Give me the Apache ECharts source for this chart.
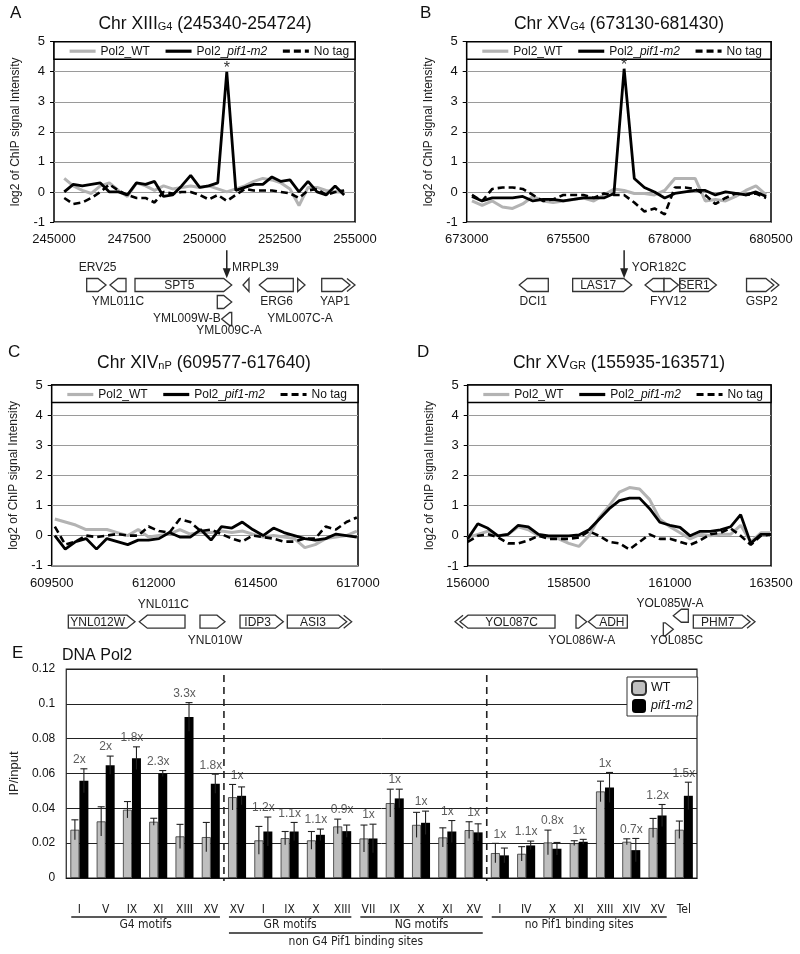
<!DOCTYPE html>
<html><head><meta charset="utf-8">
<script src="https://cdn.jsdelivr.net/npm/echarts@6.0.0/dist/echarts.min.js"></script>
<style>html,body{margin:0;padding:0;background:#fff}#c{width:800px;height:954px}</style>
</head><body><div id="c"></div>
<script>
// ---------------- DATA ----------------
// Panel A: Chr XIII G4 (245340-254724)
const aX = [245340,245640,245940,246240,246540,246840,247140,247440,247740,248040,248340,248640,248940,249240,249540,249840,250140,250440,250740,251040,251340,251640,251940,252240,252540,252840,253140,253440,253740,254040,254340,254640];
const aWT = [0.45,0.2,0.05,-0.05,0.2,0.3,0.05,-0.15,0.3,0.2,0.05,0.2,0.1,0.15,0.2,0.15,0.2,0.1,0.0,0.1,0.2,0.35,0.45,0.4,0.3,0.1,-0.45,0.15,0.15,0.05,0.0,0.0];
const aPif = [0.0,0.25,0.2,0.25,0.3,0.0,0.0,-0.1,0.3,0.25,0.35,-0.15,-0.1,0.2,0.55,0.15,0.2,0.3,4.0,0.05,0.15,0.25,0.25,0.5,0.35,0.4,0.0,0.35,0.0,-0.1,0.2,-0.1];
const aNoTag = [-0.2,-0.4,-0.35,-0.2,0.0,0.25,0.05,-0.1,-0.2,-0.2,-0.35,0.0,-0.05,0.0,0.0,-0.1,-0.25,-0.1,-0.3,-0.1,0.1,0.05,0.05,0.05,0.0,-0.05,-0.2,0.05,0.1,-0.1,0.0,0.05];
// Panel B: Chr XV G4 (673130-681430)
const bX = [673130,673380,673630,673880,674130,674380,674630,674880,675130,675380,675630,675880,676130,676380,676630,676880,677130,677380,677630,677880,678130,678380,678630,678880,679130,679380,679630,679880,680130,680380];
const bWT = [-0.3,-0.45,-0.3,-0.5,-0.55,-0.4,-0.15,-0.3,-0.35,-0.3,-0.25,-0.2,-0.3,-0.1,0.1,0.05,-0.05,-0.05,-0.1,0.05,0.45,0.45,0.45,-0.3,-0.25,-0.3,-0.15,0.05,0.2,-0.1];
const bPif = [-0.15,-0.3,-0.2,-0.2,-0.2,-0.15,-0.3,-0.25,-0.25,-0.3,-0.25,-0.2,-0.2,-0.2,-0.05,4.1,0.45,0.15,0.0,-0.2,-0.05,0.0,0.05,0.05,-0.1,0.0,-0.05,-0.1,0.0,-0.15];
const bNoTag = [-0.1,-0.3,0.1,0.15,0.15,0.1,-0.1,-0.3,-0.25,-0.1,-0.1,-0.1,-0.2,-0.05,-0.1,-0.1,-0.35,-0.65,-0.55,-0.75,0.15,0.15,0.1,-0.1,-0.4,-0.2,-0.05,-0.1,-0.05,-0.2];
// Panel C: Chr XIV nP (609577-617640)
const cX = [609577,609832,610087,610342,610597,610852,611107,611362,611617,611872,612127,612382,612637,612892,613147,613402,613657,613912,614167,614422,614677,614932,615187,615442,615697,615952,616207,616462,616717,616972];
const cWT = [0.55,0.45,0.35,0.2,0.2,0.2,0.1,0.0,0.2,-0.05,0.0,0.05,0.2,0.05,0.1,0.1,0.15,0.1,0.15,0.05,-0.05,0.0,-0.05,-0.1,-0.4,-0.3,-0.1,-0.05,0.0,0.15];
const cPif = [0.0,-0.45,-0.2,-0.1,-0.45,-0.1,-0.2,-0.3,-0.15,-0.15,-0.1,0.1,-0.05,-0.05,0.2,-0.15,0.3,0.25,0.45,0.2,0.0,0.25,0.1,0.0,-0.1,-0.15,-0.1,0.05,0.0,-0.05];
const cNoTag = [0.3,-0.3,-0.2,0.0,-0.05,0.0,0.05,0.0,0.0,0.3,0.15,0.1,0.55,0.45,0.15,0.2,0.05,-0.1,-0.2,0.0,-0.05,-0.1,-0.2,-0.2,-0.1,-0.1,0.3,0.2,0.45,0.6];
// Panel D: Chr XV GR (155935-163571)
const dX = [156000,156250,156500,156750,157000,157250,157500,157750,158000,158250,158500,158750,159000,159250,159500,159750,160000,160250,160500,160750,161000,161250,161500,161750,162000,162250,162500,162750,163000,163250,163500];
const dWT = [-0.05,0.05,0.15,0.0,0.05,0.3,0.2,0.0,-0.05,-0.1,-0.25,-0.35,0.0,0.6,1.0,1.45,1.6,1.55,1.2,0.55,0.3,0.1,-0.1,0.05,0.0,0.05,0.05,0.35,-0.2,0.1,0.1];
const dPif = [-0.1,0.4,0.25,0.0,0.05,0.35,0.3,0.05,0.0,0.0,0.0,0.03,0.2,0.55,0.9,1.17,1.25,1.25,0.9,0.45,0.35,0.28,0.0,0.15,0.15,0.2,0.3,0.7,-0.25,0.05,0.05];
const dNoTag = [-0.2,0.0,0.05,-0.05,-0.25,-0.25,-0.15,0.0,-0.1,-0.1,-0.1,-0.05,0.15,0.0,-0.2,-0.25,-0.45,-0.2,0.05,-0.1,-0.1,-0.2,-0.3,-0.15,0.05,0.1,0.25,0.0,-0.3,0.0,0.05];

// Gene annotations: [name, start, end, strand, row, doubleChevron, labelInside]
const genesA = [
  ['ERV25',246086,246728,1,0,0,0], ['YML011C',246860,247392,-1,0,0,0], ['SPT5',247691,250904,1,0,0,1],
  ['MRPL39',251279,251478,-1,0,0,0], ['ERG6',251821,252950,-1,0,0,0], ['YML007C-A',253096,253339,1,0,0,0],
  ['YAP1',253894,254834,1,0,1,0], ['YML009W-B',250425,250904,1,1,0,0], ['YML009C-A',250570,250904,-1,2,0,0]
];
// Outside gene labels: [text, position, row, align]
const labelsA = [
  ['ERV25',246450,-1,'center'], ['YML011C',247126,1,'center'], ['MRPL39',250914,-1,'left'],
  ['ERG6',252399,1,'center'], ['YML007C-A',253173,2,'center'], ['YAP1',254336,1,'center'],
  ['YML009W-B',250540,2,'right'], ['YML009C-A',250814,2.7,'center']
];
const genesB = [
  ['DCI1',674296,675011,-1,0,0,0], ['LAS17',675612,677067,1,0,0,1], ['FYV12',677396,677864,-1,0,0,0],
  ['',677864,678217,1,0,0,0], ['SER1',678250,679154,1,0,0,1], ['GSP2',679897,680571,1,0,1,0]
];
const labelsB = [['DCI1',674641,1,'center'], ['YOR182C',677067,-1,'left'], ['FYV12',677969,1,'center'], ['GSP2',680271,1,'center']];
const genesC = [
  ['YNL012W',609907,611540,1,0,0,1], ['YNL011C',611645,612764,-1,0,0,0], ['YNL010W',613131,613743,1,0,0,0],
  ['IDP3',614111,615171,1,0,0,1], ['ASI3',615269,616723,1,0,1,1]
];
const labelsC = [['YNL011C',612234,-1,'center'], ['YNL010W',613500,1.1,'center']];
const genesD = [
  ['YOL087C',155810,158159,-1,0,1,1], ['YOL086W-A',158678,158942,1,0,0,0], ['ADH',158983,159947,-1,0,0,1],
  ['YOL085W-A',161084,161455,-1,-0.35,0,0], ['YOL085C',160837,161084,1,0.45,0,0], ['PHM7',161579,162981,1,0,1,1]
];
const labelsD = [['YOL086W-A',158819,1.1,'center'], ['YOL085W-A',161003,-1.05,'center'], ['YOL085C',161168,1.1,'center']];

// Panel E: DNA Pol2 ChIP (IP/input)
const eCats = ['I','V','IX','XI','XIII','XV','XV','I','IX','X','XIII','VII','IX','X','XI','XV','I','IV','X','XI','XIII','XIV','XV','Tel'];
const eWT = [0.0277,0.0325,0.0392,0.0323,0.0239,0.0235,0.0464,0.0216,0.0229,0.0216,0.0296,0.0227,0.043,0.0305,0.0233,0.0275,0.0143,0.0139,0.0204,0.02,0.0497,0.0208,0.0287,0.0277];
const eWTErr = [0.0057,0.0084,0.0047,0.002,0.0069,0.0084,0.0073,0.008,0.0038,0.0051,0.0042,0.0077,0.008,0.0072,0.0055,0.0048,0.0056,0.0041,0.0071,0.0014,0.0059,0.0017,0.0055,0.005];
const ePif = [0.0558,0.0648,0.0688,0.06,0.0925,0.0541,0.0472,0.0267,0.0267,0.0248,0.0269,0.0227,0.0457,0.0317,0.0267,0.0262,0.013,0.0187,0.0168,0.0208,0.052,0.016,0.0359,0.0472];
const ePifErr = [0.0069,0.0052,0.0065,0.0017,0.0082,0.0055,0.0051,0.0083,0.0052,0.0033,0.0035,0.0082,0.0053,0.0067,0.0063,0.0049,0.0042,0.0025,0.0036,0.0014,0.0086,0.0067,0.0063,0.0078];
const eFold = ['2x','2x','1.8x','2.3x','3.3x','1.8x','1x','1.2x','1.1x','1.1x','0.9x','1x','1x','1x','1x','1x','1x','1.1x','0.8x','1x','1x','0.7x','1.2x','1.5x'];
const eDividers = [6, 16];
// category groups: [firstIndex, lastIndex, level, name]
const eGroups = [[0,5,0,'G4 motifs'],[6,10,0,'GR motifs'],[11,15,0,'NG motifs'],[16,22,0,'no Pif1 binding sites'],[6,15,1,'non G4 Pif1 binding sites']];

// ---------------- CHART ----------------
const FONT = "'Liberation Sans', Arial, Helvetica, sans-serif";
const NARROW = "'Liberation Sans Narrow', 'DejaVu Sans Condensed', 'Liberation Sans', sans-serif";
const chart = echarts.init(document.getElementById('c'));
const option = {animation:false, textStyle:{fontFamily:FONT, color:'#111'}, grid:[], xAxis:[], yAxis:[], series:[], legend:[], graphic:[]};

const panels = [
  {x:aX, wt:aWT, pif:aPif, nt:aNoTag, xmin:245000, xmax:255000, genes:genesA, labels:labelsA, arrow:true,
   g:{left:54, top:41.7, width:301, height:180.3}, geneY:285, letter:['A',16,15], title:['Chr XIII','G4',' (245340-254724)',205,24]},
  {x:bX, wt:bWT, pif:bPif, nt:bNoTag, xmin:673000, xmax:680500, genes:genesB, labels:labelsB, arrow:true,
   g:{left:466.7, top:41.7, width:304.3, height:180.3}, geneY:285, letter:['B',426,15], title:['Chr XV','G4',' (673130-681430)',619,24]},
  {x:cX, wt:cWT, pif:cPif, nt:cNoTag, xmin:609500, xmax:617000, genes:genesC, labels:labelsC, arrow:false,
   g:{left:51.7, top:385, width:306.3, height:180.7}, geneY:621.7, letter:['C',14,354], title:['Chr XIV','nP',' (609577-617640)',204,363]},
  {x:dX, wt:dWT, pif:dPif, nt:dNoTag, xmin:156000, xmax:163500, genes:genesD, labels:labelsD, arrow:false,
   g:{left:467.7, top:385, width:303.3, height:181}, geneY:621.7, letter:['D',423,354], title:['Chr XV','GR',' (155935-163571)',619,363]}
];
const pair = (xs, ys) => xs.map((x, i) => [x, ys[i]]);
const ROW = 17;

panels.forEach(p => {
  // plot grid
  const gi = option.grid.length;
  option.grid.push({left:p.g.left, top:p.g.top, width:p.g.width, height:p.g.height, show:true, borderColor:'#000', borderWidth:1.5});
  option.xAxis.push({gridIndex:gi, type:'value', min:p.xmin, max:p.xmax, interval:2500,
    axisLine:{show:false}, axisTick:{show:false}, splitLine:{show:false},
    axisLabel:{fontSize:13, color:'#111', margin:11, formatter:v => String(v)}});
  option.yAxis.push({gridIndex:gi, type:'value', min:-1, max:5, interval:1,
    axisLine:{show:false}, axisTick:{show:true, length:4, lineStyle:{color:'#000'}},
    splitLine:{lineStyle:{color:'#9a9a9a', width:1}},
    axisLabel:{fontSize:13, color:'#111', margin:9},
    name:'log2 of ChIP signal Intensity', nameLocation:'middle', nameGap:32, nameTextStyle:{fontSize:12, color:'#222'}});
  option.series.push({type:'line', name:'Pol2_WT', xAxisIndex:gi, yAxisIndex:gi, data:pair(p.x, p.wt), symbol:'none', showSymbol:false,
    lineStyle:{color:'#b3b3b3', width:3}, itemStyle:{color:'#b3b3b3'}, z:2,
    markArea:{silent:true, itemStyle:{color:'#fff', borderColor:'#000', borderWidth:1.5}, data:[[{yAxis:4.42},{yAxis:5}]]}});
  option.series.push({type:'line', name:'No tag', xAxisIndex:gi, yAxisIndex:gi, data:pair(p.x, p.nt), symbol:'none', showSymbol:false,
    lineStyle:{color:'#000', width:2.6, type:[7,4]}, itemStyle:{color:'#000'}, z:3});
  const pifSeries = {type:'line', name:'Pol2_pif1-m2', xAxisIndex:gi, yAxisIndex:gi, data:pair(p.x, p.pif), symbol:'none', showSymbol:false,
    lineStyle:{color:'#000', width:2.8}, itemStyle:{color:'#000'}, z:4};
  if (p.arrow) {
    pifSeries.markPoint = {symbol:'circle', symbolSize:0, data:[{type:'max'}],
      label:{show:true, formatter:'*', position:'top', distance:-5, fontSize:16, color:'#333'}};
  }
  option.series.push(pifSeries);
  option.legend.push({data:['Pol2_WT','Pol2_pif1-m2','No tag'], left:p.g.left+9, top:p.g.top+1.5, padding:[2,5],
    itemWidth:26, itemHeight:12, itemGap:14, selectedMode:false, itemStyle:{opacity:0}, lineStyle:{width:3.2},
    textStyle:{fontSize:12, color:'#111', rich:{i:{fontStyle:'italic', fontSize:12, color:'#111'}}},
    formatter:n => n === 'Pol2_pif1-m2' ? 'Pol2_{i|pif1-m2}' : n});

  // gene track grid
  const gj = option.grid.length;
  option.grid.push({left:p.g.left, top:p.geneY - 2.5*ROW, width:p.g.width, height:6*ROW});
  option.xAxis.push({gridIndex:gj, type:'value', min:p.xmin, max:p.xmax, show:false});
  option.yAxis.push({gridIndex:gj, type:'value', min:-2.5, max:3.5, inverse:true, show:false});
  const genes = p.genes;
  option.series.push({type:'custom', xAxisIndex:gj, yAxisIndex:gj, clip:false, silent:true,
    data:genes.map(g => [g[1], g[2], g[3], g[4], g[5]]),
    renderItem:(params, api) => {
      const gdef = genes[params.dataIndex];
      const a = api.coord([api.value(0), api.value(3)]);
      const b = api.coord([api.value(1), api.value(3)]);
      const x1 = a[0], x2 = b[0], yc = a[1], hh = 6.5;
      const strand = api.value(2), dbl = api.value(4);
      const tip = Math.min(8, x2 - x1);
      let pts, chev, tx;
      if (strand > 0) {
        pts = [[x1,yc-hh],[x2-tip,yc-hh],[x2,yc],[x2-tip,yc+hh],[x1,yc+hh]];
        chev = [[x2-tip+5,yc-hh],[x2+5,yc],[x2-tip+5,yc+hh]];
        tx = (x1 + x2 - tip) / 2;
      } else {
        pts = [[x2,yc-hh],[x1+tip,yc-hh],[x1,yc],[x1+tip,yc+hh],[x2,yc+hh]];
        chev = [[x1+tip-5,yc-hh],[x1-5,yc],[x1+tip-5,yc+hh]];
        tx = (x1 + tip + x2) / 2;
      }
      const children = [{type:'polygon', shape:{points:pts}, style:{fill:'#fff', stroke:'#333', lineWidth:1.3}}];
      if (dbl) children.push({type:'polyline', shape:{points:chev}, style:{fill:null, stroke:'#333', lineWidth:1.3}});
      if (gdef[6]) children.push({type:'text', style:{text:gdef[0], x:tx, y:yc+0.5, align:'center', verticalAlign:'middle', fontSize:12, fill:'#222', fontFamily:FONT}});
      return {type:'group', children};
    }});
  const labels = p.labels;
  option.series.push({type:'custom', xAxisIndex:gj, yAxisIndex:gj, clip:false, silent:true,
    data:labels.map(l => [l[1], l[2]]),
    renderItem:(params, api) => {
      const l = labels[params.dataIndex];
      const c = api.coord([api.value(0), api.value(1)]);
      return {type:'text', style:{text:l[0], x:c[0], y:c[1], align:l[3], verticalAlign:'middle', fontSize:12, fill:'#222', fontFamily:FONT}};
    }});
  if (p.arrow) {
    let mi = 0; p.pif.forEach((v, i) => { if (v > p.pif[mi]) mi = i; });
    option.series.push({type:'custom', xAxisIndex:gj, yAxisIndex:gj, clip:false, silent:true,
      data:[[p.x[mi], -2.05, -0.4]],
      renderItem:(params, api) => {
        const t = api.coord([api.value(0), api.value(1)]);
        const bt = api.coord([api.value(0), api.value(2)]);
        return {type:'group', children:[
          {type:'line', shape:{x1:t[0], y1:t[1], x2:t[0], y2:bt[1]-8}, style:{stroke:'#222', lineWidth:1.5}},
          {type:'polygon', shape:{points:[[t[0]-4,bt[1]-10],[t[0]+4,bt[1]-10],[t[0],bt[1]]]}, style:{fill:'#222'}}
        ]};
      }});
  }
  // letters and titles
  option.graphic.push({type:'text', left:p.letter[1]-6, top:p.letter[2]-10, style:{text:p.letter[0], fontSize:17, fill:'#111', fontFamily:FONT}});
  option.graphic.push({type:'text', x:p.title[3], y:p.title[4], style:{
    text:'{a|' + p.title[0] + '}{s|' + p.title[1] + '}{a|' + p.title[2] + '}',
    align:'center', verticalAlign:'middle',
    rich:{a:{fontSize:17.5, fontFamily:FONT, fill:'#111', verticalAlign:'bottom'}, s:{fontSize:11, fontFamily:FONT, fill:'#111', verticalAlign:'bottom', padding:[0,0,1,0]}}}});
});

// ---- Panel E ----
const ge = option.grid.length;
option.grid.push({left:61.7, top:669, width:635.3, height:209, show:true, borderColor:'#222', borderWidth:1.2});
option.xAxis.push({gridIndex:ge, type:'category', data:eCats, axisTick:{show:false},
  axisLine:{lineStyle:{color:'#111', width:1.2}}, axisLabel:{fontSize:12, color:'#222', margin:26, fontFamily:NARROW, interval:0}});
option.yAxis.push({gridIndex:ge, type:'value', min:0, max:0.12, interval:0.02,
  axisLine:{show:false}, axisTick:{show:false}, splitLine:{lineStyle:{color:'#222', width:1}},
  axisLabel:{fontSize:12, color:'#111', margin:11, formatter:v => v === 0 ? '0' : String(+v.toFixed(2))},
  name:'IP/input', nameLocation:'middle', nameGap:44, nameTextStyle:{fontSize:13, color:'#222'}});
option.series.push({type:'bar', name:'WT', xAxisIndex:ge, yAxisIndex:ge, data:eWT, barWidth:9, barGap:'0%',
  itemStyle:{color:'#bfbfbf', borderColor:'#333', borderWidth:0.8}});
option.series.push({type:'bar', name:'pif1-m2', xAxisIndex:ge, yAxisIndex:ge, data:ePif, barWidth:9, barGap:'0%',
  itemStyle:{color:'#000'}});
const errRender = side => (params, api) => {
  const idx = api.value(0), v = api.value(1), e = api.value(2);
  const top = api.coord([idx, v + e]);
  const bot = api.coord([idx, v - e]);
  const x = top[0] + side * 4.5;
  return {type:'group', children:[
    {type:'line', shape:{x1:x, y1:top[1], x2:x, y2:bot[1]}, style:{stroke:'#222', lineWidth:1.1}},
    {type:'line', shape:{x1:x-3.5, y1:top[1], x2:x+3.5, y2:top[1]}, style:{stroke:'#222', lineWidth:1.1}}
  ]};
};
option.series.push({type:'custom', xAxisIndex:ge, yAxisIndex:ge, silent:true, z:5,
  data:eWT.map((v, i) => [i, v, eWTErr[i]]), renderItem:errRender(-1)});
option.series.push({type:'custom', xAxisIndex:ge, yAxisIndex:ge, silent:true, z:5,
  data:ePif.map((v, i) => [i, v, ePifErr[i]]), renderItem:errRender(1)});
option.series.push({type:'scatter', xAxisIndex:ge, yAxisIndex:ge, silent:true, symbolSize:0, z:6,
  data:eFold.map((f, i) => [i, Math.max(eWT[i] + eWTErr[i], ePif[i] + ePifErr[i])]),
  label:{show:true, position:'top', distance:3, fontSize:12, color:'#333', formatter:pp => eFold[pp.dataIndex]}});
option.series.push({type:'custom', xAxisIndex:ge, yAxisIndex:ge, silent:true, clip:false, z:6,
  data:eDividers.map(d => [d, 0.1165]),
  renderItem:(params, api) => {
    const idx = api.value(0);
    const a = api.coord([idx - 1, 0]), b = api.coord([idx, api.value(1)]);
    const x = (a[0] + b[0]) / 2;
    return {type:'line', shape:{x1:x, y1:b[1], x2:x, y2:a[1] + 3}, style:{stroke:'#222', lineWidth:1.6, lineDash:[7,5]}};
  }});
option.series.push({type:'custom', xAxisIndex:ge, yAxisIndex:ge, silent:true, clip:false,
  data:eGroups.map(g => [g[0], g[1], g[2]]),
  renderItem:(params, api) => {
    const g = eGroups[params.dataIndex];
    const band = api.size([1, 0])[0];
    const a = api.coord([api.value(0), 0]), b = api.coord([api.value(1), 0]);
    const xl = a[0] - band / 2 + 5, xr = b[0] + band / 2 - 4;
    const lvl = api.value(2);
    const yl = a[1] + 39 + lvl * 16, yt = a[1] + 47 + lvl * 17;
    return {type:'group', children:[
      {type:'line', shape:{x1:xl, y1:yl, x2:xr, y2:yl}, style:{stroke:'#222', lineWidth:1.3}},
      {type:'text', style:{text:g[3], x:(xl + xr) / 2, y:yt, align:'center', verticalAlign:'middle', fontSize:12, fill:'#222', fontFamily:NARROW}}
    ]};
  }});
option.legend.push({data:['WT','pif1-m2'], orient:'vertical', left:627, top:677, itemWidth:14, itemHeight:14, itemGap:3,
  backgroundColor:'#fff', borderColor:'#333', borderWidth:1, padding:[3,5,3,4], selectedMode:false,
  textStyle:{fontSize:12.5, color:'#111', rich:{i:{fontStyle:'italic', fontSize:12.5, color:'#111'}}},
  formatter:n => n === 'pif1-m2' ? '{i|pif1-m2}' : n});
option.graphic.push({type:'text', left:12, top:645, style:{text:'E', fontSize:17, fill:'#111', fontFamily:FONT}});
option.graphic.push({type:'text', left:62, top:648, style:{text:'DNA Pol2', fontSize:16, fill:'#111', fontFamily:FONT}});

chart.setOption(option);
</script></body></html>
